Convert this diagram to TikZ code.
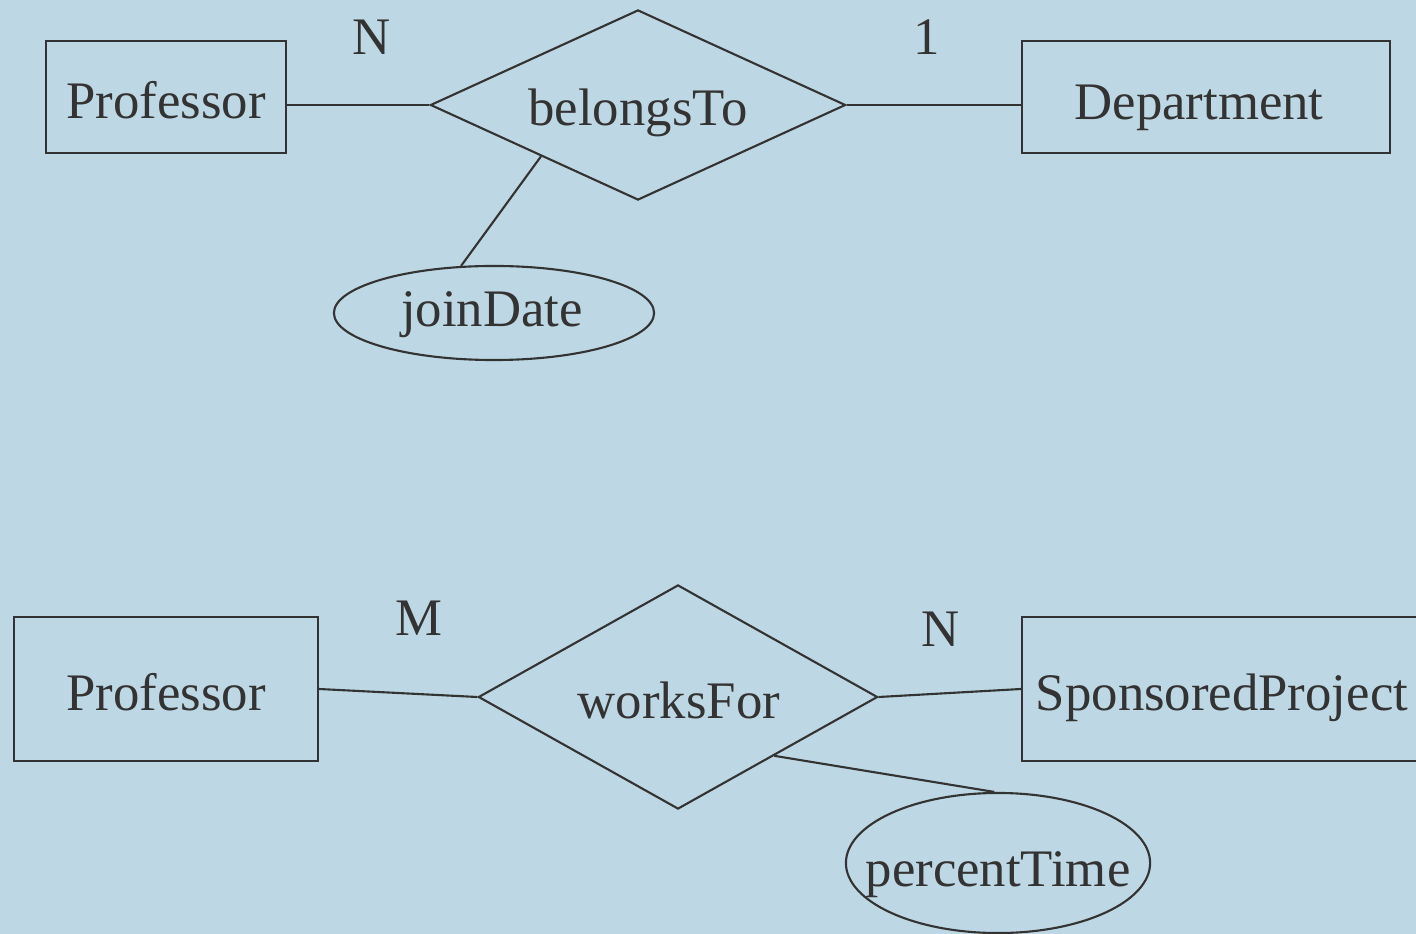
\documentclass[tikz,border=0pt]{standalone}
\usepackage{fontspec}
\setmainfont{Liberation Serif}
\usetikzlibrary{shapes.geometric,calc}
\definecolor{bg}{HTML}{BDD7E4}
\definecolor{ink}{HTML}{333333}
\begin{document}
\begin{tikzpicture}[x=0.01cm,y=-0.01cm,
  every node/.style={text=ink,font=\fontsize{15}{18}\selectfont},
  ent/.style={draw=ink,line width=0.6pt,rectangle,inner sep=0pt},
  rel/.style={draw=ink,line width=0.6pt,diamond,aspect=2.18,inner sep=0pt},
  attr/.style={draw=ink,line width=0.6pt,ellipse,inner sep=0pt},
  conn/.style={draw=ink,line width=0.6pt},
  lbl/.style={inner sep=0pt,anchor=base}]
\fill[bg] (0,0) rectangle (1416,934);
\useasboundingbox (0,0) rectangle (1416,934);
% top
\node[ent,minimum width=2.40cm,minimum height=1.12cm] (prof1) at (166,97) {};
\node[lbl] (prof1t) at (166,119) {Professor};
\node[ent,minimum width=3.68cm,minimum height=1.12cm] (dept) at (1206,97) {};
\node[lbl] (deptt) at (1199,120) {Department};
\node[rel,minimum width=4.15cm,minimum height=1.90cm] (bt) at (638,105) {};
\node[lbl] (btt) at (638,126) {belongsTo};
\node[attr,minimum width=3.20cm,minimum height=0.94cm] (jd) at (494,313) {};
\node[lbl] (jdt) at (492,327) {joinDate};
\draw[conn] (prof1.east |- bt.west) -- (bt.west);
\draw[conn] (bt.east) -- (bt.east -| dept.west);
\draw[conn] ($(bt.west)!0.535!(bt.south)$) -- (jd.125);
\node[lbl] (n1) at (372,55) {N};
\node[lbl] (c1) at (927,55) {1};
% bottom
\node[ent,minimum width=3.04cm,minimum height=1.44cm] (prof2) at (166,689) {};
\node[lbl] (prof2t) at (166,710) {Professor};
\node[ent,minimum width=4.00cm,minimum height=1.44cm] (sp) at (1222,689) {};
\node[lbl] (spt) at (1222,710) {SponsoredProject};
\node[rel,minimum width=3.99cm,minimum height=2.24cm] (wf) at (678,697) {};
\node[lbl] (wft) at (679,718) {worksFor};
\node[attr,minimum width=3.04cm,minimum height=1.40cm] (pt) at (998,863) {};
\node[lbl] (ptt) at (998,886) {percentTime};
\draw[conn] (prof2.east) -- (wf.west);
\draw[conn] (wf.east) -- (sp.west);
\draw[conn] ($(wf.east)!0.52!(wf.south)$) -- (pt.93);
\node[lbl] (m2) at (419,635) {M};
\node[lbl] (n2) at (941,646) {N};
\end{tikzpicture}
\end{document}
